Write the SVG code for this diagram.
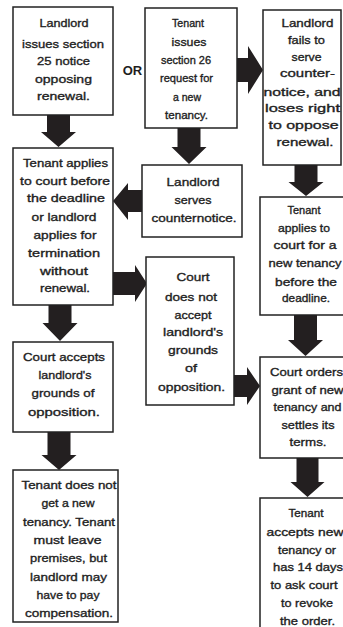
<svg xmlns="http://www.w3.org/2000/svg" width="343" height="627" viewBox="0 0 343 627">
<style>
.box{fill:#fff;stroke:#222;stroke-width:1.5}
.arr{fill:#231f20}
text{font-family:"Liberation Sans",Arial,sans-serif;font-weight:normal;font-size:11.5px;fill:#1e1e1e;stroke:#1e1e1e;stroke-width:0.35;text-anchor:middle}
.or{font-size:13px;font-weight:bold;stroke-width:0}
</style>
<rect width="343" height="627" fill="#fff"/>
<g id="connectors">
<polygon class="arr" points="47,115 70,115 70,132 76,132 58.5,147 41,132 47,132"/>
<polygon class="arr" points="177.5,128 200.5,128 200.5,147 206.5,147 189,164 171.5,147 177.5,147"/>
<polygon class="arr" points="237,58 248,58 248,46 263,70 248,94 248,82 237,82"/>
<polygon class="arr" points="294.5,165 317.5,165 317.5,182 323.5,182 306,196 288.5,182 294.5,182"/>
<polygon class="arr" points="142,190 128,190 128,183 113,201 128,220 128,212 142,212"/>
<polygon class="arr" points="113,272 135,272 135,265 147,283.5 135,302 135,295 113,295"/>
<polygon class="arr" points="48.5,305 71.5,305 71.5,323 77.5,323 60,341 42.5,323 48.5,323"/>
<polygon class="arr" points="294,315 317,315 317,340 323,340 305.5,356 288,340 294,340"/>
<polygon class="arr" points="234,375 247,375 247,367 260,386 247,405 247,397 234,397"/>
<polygon class="arr" points="47.5,432 70.5,432 70.5,455 76.5,455 59,470 41.5,455 47.5,455"/>
<polygon class="arr" points="296.5,458 318.5,458 318.5,482 324.5,482 307.5,497 290.5,482 296.5,482"/>
</g>
<text class="or" x="132.5" y="75">OR</text>
<g id="n1">
<rect class="box" x="13" y="7" width="100" height="108"/>
<text x="64" y="27" textLength="49" lengthAdjust="spacingAndGlyphs">Landlord</text>
<text x="63" y="48" textLength="82" lengthAdjust="spacingAndGlyphs">issues section</text>
<text x="63.5" y="65" textLength="53" lengthAdjust="spacingAndGlyphs">25 notice</text>
<text x="63.5" y="83" textLength="57" lengthAdjust="spacingAndGlyphs">opposing</text>
<text x="63.5" y="100" textLength="53" lengthAdjust="spacingAndGlyphs">renewal.</text>
</g>
<g id="n2">
<rect class="box" x="145" y="8" width="92" height="120"/>
<text x="188" y="27" textLength="32" lengthAdjust="spacingAndGlyphs">Tenant</text>
<text x="189" y="46" textLength="35" lengthAdjust="spacingAndGlyphs">issues</text>
<text x="186" y="64" textLength="50" lengthAdjust="spacingAndGlyphs">section 26</text>
<text x="186.5" y="82" textLength="53" lengthAdjust="spacingAndGlyphs">request for</text>
<text x="187" y="101" textLength="28" lengthAdjust="spacingAndGlyphs">a new</text>
<text x="186.5" y="119" textLength="43" lengthAdjust="spacingAndGlyphs">tenancy.</text>
</g>
<g id="n3">
<rect class="box" x="263" y="10" width="78" height="155"/>
<text x="307.5" y="27" textLength="52" lengthAdjust="spacingAndGlyphs">Landlord</text>
<text x="306.5" y="44" textLength="37" lengthAdjust="spacingAndGlyphs">fails to</text>
<text x="306.5" y="61" textLength="30" lengthAdjust="spacingAndGlyphs">serve</text>
<text x="307.5" y="77" textLength="55" lengthAdjust="spacingAndGlyphs">counter-</text>
<text x="302" y="96" textLength="77" lengthAdjust="spacingAndGlyphs">notice, and</text>
<text x="302.5" y="112" textLength="75" lengthAdjust="spacingAndGlyphs">loses right</text>
<text x="303.5" y="129" textLength="70" lengthAdjust="spacingAndGlyphs">to oppose</text>
<text x="305" y="146" textLength="57" lengthAdjust="spacingAndGlyphs">renewal.</text>
</g>
<g id="n4">
<rect class="box" x="13" y="148" width="100" height="157"/>
<text x="65.5" y="167" textLength="85" lengthAdjust="spacingAndGlyphs">Tenant applies</text>
<text x="65" y="185" textLength="90" lengthAdjust="spacingAndGlyphs">to court before</text>
<text x="66" y="202" textLength="78" lengthAdjust="spacingAndGlyphs">the deadline</text>
<text x="64" y="221" textLength="65" lengthAdjust="spacingAndGlyphs">or landlord</text>
<text x="65" y="239" textLength="63" lengthAdjust="spacingAndGlyphs">applies for</text>
<text x="64" y="257" textLength="72" lengthAdjust="spacingAndGlyphs">termination</text>
<text x="64" y="275" textLength="48" lengthAdjust="spacingAndGlyphs">without</text>
<text x="65" y="292" textLength="50" lengthAdjust="spacingAndGlyphs">renewal.</text>
</g>
<g id="n5">
<rect class="box" x="142" y="165" width="100" height="72"/>
<text x="193" y="186" textLength="53" lengthAdjust="spacingAndGlyphs">Landlord</text>
<text x="193" y="204" textLength="37" lengthAdjust="spacingAndGlyphs">serves</text>
<text x="194" y="222" textLength="85" lengthAdjust="spacingAndGlyphs">counternotice.</text>
</g>
<g id="n6">
<rect class="box" x="146" y="257" width="88" height="148"/>
<text x="193" y="281" textLength="33" lengthAdjust="spacingAndGlyphs">Court</text>
<text x="191" y="301" textLength="52" lengthAdjust="spacingAndGlyphs">does not</text>
<text x="193" y="319" textLength="37" lengthAdjust="spacingAndGlyphs">accept</text>
<text x="193" y="336" textLength="60" lengthAdjust="spacingAndGlyphs">landlord's</text>
<text x="193" y="354" textLength="50" lengthAdjust="spacingAndGlyphs">grounds</text>
<text x="191" y="372" textLength="12" lengthAdjust="spacingAndGlyphs">of</text>
<text x="191.5" y="391" textLength="67" lengthAdjust="spacingAndGlyphs">opposition.</text>
</g>
<g id="n7">
<rect class="box" x="260" y="197" width="95" height="118"/>
<text x="304" y="214" textLength="33" lengthAdjust="spacingAndGlyphs">Tenant</text>
<text x="304" y="232" textLength="52" lengthAdjust="spacingAndGlyphs">applies to</text>
<text x="305" y="249" textLength="63" lengthAdjust="spacingAndGlyphs">court for a</text>
<text x="305" y="267" textLength="73" lengthAdjust="spacingAndGlyphs">new tenancy</text>
<text x="306" y="286" textLength="62" lengthAdjust="spacingAndGlyphs">before the</text>
<text x="306" y="302" textLength="48" lengthAdjust="spacingAndGlyphs">deadline.</text>
</g>
<g id="n8">
<rect class="box" x="13" y="342" width="100" height="90"/>
<text x="64" y="361" textLength="82" lengthAdjust="spacingAndGlyphs">Court accepts</text>
<text x="65" y="379" textLength="53" lengthAdjust="spacingAndGlyphs">landlord's</text>
<text x="63" y="397" textLength="63" lengthAdjust="spacingAndGlyphs">grounds of</text>
<text x="64" y="416" textLength="72" lengthAdjust="spacingAndGlyphs">opposition.</text>
</g>
<g id="n9">
<rect class="box" x="260" y="357" width="95" height="101"/>
<text x="306.5" y="376" textLength="73" lengthAdjust="spacingAndGlyphs">Court orders</text>
<text x="307.5" y="394" textLength="72" lengthAdjust="spacingAndGlyphs">grant of new</text>
<text x="307.5" y="411" textLength="68" lengthAdjust="spacingAndGlyphs">tenancy and</text>
<text x="308" y="429" textLength="53" lengthAdjust="spacingAndGlyphs">settles its</text>
<text x="308" y="446" textLength="37" lengthAdjust="spacingAndGlyphs">terms.</text>
</g>
<g id="n10">
<rect class="box" x="13" y="470" width="105" height="152"/>
<text x="69" y="489" textLength="95" lengthAdjust="spacingAndGlyphs">Tenant does not</text>
<text x="68" y="507" textLength="53" lengthAdjust="spacingAndGlyphs">get a new</text>
<text x="69" y="526" textLength="92" lengthAdjust="spacingAndGlyphs">tenancy. Tenant</text>
<text x="67.5" y="544" textLength="68" lengthAdjust="spacingAndGlyphs">must leave</text>
<text x="68.5" y="562" textLength="77" lengthAdjust="spacingAndGlyphs">premises, but</text>
<text x="68.5" y="581" textLength="77" lengthAdjust="spacingAndGlyphs">landlord may</text>
<text x="68" y="599" textLength="63" lengthAdjust="spacingAndGlyphs">have to pay</text>
<text x="69" y="617" textLength="88" lengthAdjust="spacingAndGlyphs">compensation.</text>
</g>
<g id="n11">
<rect class="box" x="260" y="498" width="95" height="140"/>
<text x="306" y="517" textLength="35" lengthAdjust="spacingAndGlyphs">Tenant</text>
<text x="305" y="536" textLength="77" lengthAdjust="spacingAndGlyphs">accepts new</text>
<text x="307" y="554" textLength="58" lengthAdjust="spacingAndGlyphs">tenancy or</text>
<text x="308" y="571" textLength="70" lengthAdjust="spacingAndGlyphs">has 14 days</text>
<text x="304" y="589" textLength="67" lengthAdjust="spacingAndGlyphs">to ask court</text>
<text x="307" y="607" textLength="52" lengthAdjust="spacingAndGlyphs">to revoke</text>
<text x="307.5" y="625" textLength="55" lengthAdjust="spacingAndGlyphs">the order.</text>
</g>
</svg>
